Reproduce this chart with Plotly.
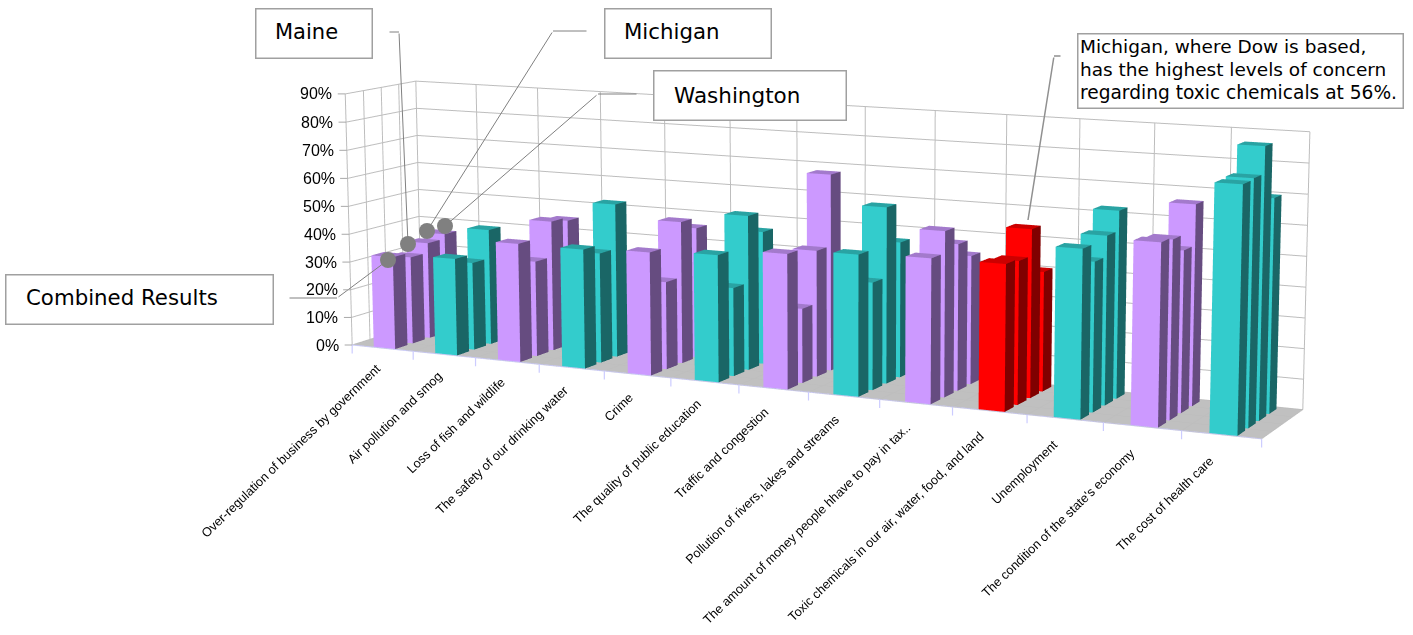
import plotly.graph_objects as go

# The canvas is larger than the window and slid upward, which gives the long-lens 3D view.
W, H = 1693, 2400
TOP_SHIFT = 983

CATEGORIES = ["Over-regulation of business by government", "Air pollution and smog", "Loss of fish and wildlife",
              "The safety of our drinking water", "Crime", "The quality of public education", "Traffic and congestion",
              "Pollution of rivers, lakes and streams", "The amount of money people hhave to pay in tax..",
              "Toxic chemicals in our air, water, food, and land", "Unemployment",
              "The condition of the state's economy", "The cost of health care"]
COMBINED = [33.0, 34.3, 41.5, 41.4, 42.3, 43.3, 45.6, 47.3, 48.0, 48.1, 54.9, 58.8, 78.6]
MAINE = [31.2, 31.1, 33.5, 38.3, 30.3, 30.3, 25.3, 36.2, 55.2, 47.3, 49.0, 58.0, 79.0]
MICHIGAN = [34.6, 41.2, 46.0, 53.8, 49.4, 53.3, 43.2, 59.7, 49.2, 56.0, 55.7, 52.8, 87.6]
WASHINGTON = [36.2, 29.1, 44.7, 31.7, 45.6, 46.1, 67.6, 46.2, 43.5, 40.1, 62.2, 66.0, 69.7]
SERIES = [COMBINED, MAINE, MICHIGAN, WASHINGTON]
PCT_TICKS = list(range(0, 100, 10))

# front, side and top shades of each bar colour
PURPLE = ("#CC99FF", "#664C80", "#A37ACC")
TEAL = ("#33CCCC", "#1A6666", "#29A3A3")
RED = ("#FF0000", "#800000", "#CC0000")
CAT_COLORS = [PURPLE, TEAL, PURPLE, TEAL, PURPLE, TEAL, PURPLE, TEAL, PURPLE, RED, TEAL, PURPLE, TEAL]

# bar footprint inside its category / depth cell
BAR_X0, BAR_X1 = 0.345, 0.695
BAR_Y0, BAR_DEPTH = 0.04, 0.70

vx, vy, vz, ti, tj, tk, face_colors = [], [], [], [], [], [], []


def quad(corners, color):
    n = len(vx)
    for x, y, z in corners:
        vx.append(x)
        vy.append(y)
        vz.append(z)
    ti.extend([n, n])
    tj.extend([n + 1, n + 2])
    tk.extend([n + 2, n + 3])
    face_colors.extend([color, color])


for c in range(len(CATEGORIES)):
    front, side, top = CAT_COLORS[c]
    for s, values in enumerate(SERIES):
        z = values[c]
        x0, x1 = c + BAR_X0, c + BAR_X1
        y0, y1 = s + BAR_Y0, s + BAR_Y0 + BAR_DEPTH
        quad([(x0, y0, 0), (x1, y0, 0), (x1, y0, z), (x0, y0, z)], front)
        quad([(x1, y0, 0), (x1, y1, 0), (x1, y1, z), (x1, y0, z)], side)
        quad([(x0, y0, z), (x1, y0, z), (x1, y1, z), (x0, y1, z)], top)

fig = go.Figure(go.Mesh3d(x=vx, y=vy, z=vz, i=ti, j=tj, k=tk, facecolor=face_colors, flatshading=True,
                          lighting=dict(ambient=1, diffuse=0, specular=0, fresnel=0, roughness=1),
                          hoverinfo="skip"))
# front edge of the floor
fig.add_trace(go.Scatter3d(x=[0, 13], y=[0, 0], z=[0, 0], mode="lines", line=dict(color="#CCCCFF", width=2),
                           hoverinfo="skip"))


def axis(**kw):
    d = dict(showticklabels=False, title="", showgrid=True, gridcolor="#BDBDBD", gridwidth=2, zeroline=False,
             showspikes=False, showbackground=False, showline=False, ticks="")
    d.update(kw)
    return d


scene_notes = []
for k, text in enumerate(CATEGORIES):
    scene_notes.append(dict(x=k + 0.5, y=0, z=0, text=text, showarrow=False, textangle=-44, xanchor="right",
                            yanchor="top", yshift=-11 - 0.5 * k, xshift=4 - 0.5 * k,
                            font=dict(family="Liberation Sans", size=12.7, color="#000")))
for k in range(len(CATEGORIES) + 1):
    scene_notes.append(dict(x=k, y=0, z=0, text="", showarrow=True, arrowhead=0, arrowwidth=1.2, arrowcolor="#CCCCFF",
                            ax=0, ay=10, standoff=0))
for v in PCT_TICKS:
    scene_notes.append(dict(x=0, y=0, z=v, text=f"{v}%", showarrow=False, xanchor="right", yanchor="middle",
                            xshift=-11, font=dict(family="Liberation Sans", size=16, color="#000")))
    scene_notes.append(dict(x=0, y=0, z=v, text="", showarrow=True, arrowhead=0, arrowwidth=1, arrowcolor="#A8A8A8",
                            ax=-9, ay=0, standoff=0))

scene = dict(
    domain=dict(x=[0, 1], y=[0, 1]),
    xaxis=axis(range=[0, 13], tickvals=list(range(14))),
    yaxis=axis(range=[0, 4], tickvals=list(range(5))),
    zaxis=axis(range=[0, 90], tickvals=PCT_TICKS, showbackground=True, backgroundcolor="#C0C0C0"),
    aspectmode="manual", aspectratio=dict(x=3.731, y=0.493, z=1),
    camera=dict(eye=dict(x=4.695, y=-9.586, z=1.815), center=dict(x=0.141, y=0.086, z=0.102),
                up=dict(x=-0.004, y=0, z=1), projection=dict(type="perspective")),
    annotations=scene_notes,
)

page_notes = []


def paper_x(x):
    return x / W


def paper_y(y):
    return 1 - (y + TOP_SHIFT) / H


def box(x0, y0, x1, y1):
    page_notes.append(dict(xref="paper", yref="paper", x=paper_x(x0), y=paper_y(y0), xanchor="left", yanchor="top",
                           text=" ", width=x1 - x0 - 2, height=y1 - y0 - 2, bgcolor="#FFF", bordercolor="#A0A0A0",
                           borderwidth=1.5, borderpad=0, showarrow=False))


def label(x, y, text, size):
    page_notes.append(dict(xref="paper", yref="paper", x=paper_x(x - 2), y=paper_y(y), xanchor="left", yanchor="middle",
                           text=text, showarrow=False, font=dict(family="DejaVu Sans", size=size, color="#000")))


def leader(x0, y0, x1, y1, color="#808080", width=1, dot=False):
    page_notes.append(dict(xref="paper", yref="paper", x=paper_x(x1), y=paper_y(y1), axref="pixel", ayref="pixel",
                           ax=x0 - x1, ay=y0 - y1, text="", showarrow=True, arrowhead=6 if dot else 0,
                           arrowsize=4 if dot else 1, arrowwidth=width, arrowcolor=color, standoff=0, startstandoff=0))


# elbowed callout lines; the state ones finish in a round dot on the first group of bars
leader(388, 32, 399, 32)
leader(399, 32, 408, 244, dot=True)
leader(588, 31, 553, 31)
leader(553, 31, 427, 231, dot=True)
leader(638, 94, 598, 94)
leader(598, 94, 445, 226, dot=True)
leader(288, 298, 337, 298)
leader(337, 298, 388, 260, dot=True)
leader(1062, 56, 1054, 56, "#909090", 1.5)
leader(1054, 56, 1028, 220, "#909090", 1.5)

box(255, 8, 372, 58)
label(275, 32, "Maine", 21)
box(604, 8, 771, 58)
label(624, 32, "Michigan", 21.3)
box(653, 70, 846, 120)
label(674, 95, "Washington", 21.5)
box(5, 274, 273, 324)
label(26, 298, "Combined Results", 21.3)
box(1077, 33, 1403, 108)
label(1080, 46, "Michigan, where Dow is based,", 18.5)
label(1080, 69, "has the highest levels of concern", 18.5)
label(1080, 92, "regarding toxic chemicals at 56%.", 18.6)

fig.update_layout(width=W, height=H, margin=dict(l=0, r=0, t=0, b=0), paper_bgcolor="#FFF", showlegend=False,
                  scene=scene, annotations=page_notes)
slide = ("var gd=document.getElementById('{plot_id}');gd.style.position='absolute';gd.style.left='0';"
         "gd.style.top='-%dpx';document.documentElement.style.overflow='hidden';"
         "document.body.style.overflow='hidden';" % TOP_SHIFT)
fig.write_html("out.html", config=dict(displayModeBar=False), default_width=f"{W}px", default_height=f"{H}px",
               post_script=slide)
